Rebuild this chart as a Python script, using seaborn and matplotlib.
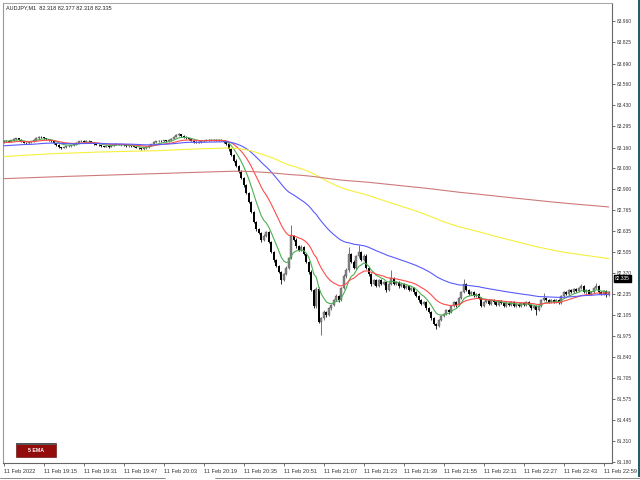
import matplotlib
matplotlib.use("Agg")
import matplotlib.pyplot as plt
from matplotlib.patches import Rectangle
from matplotlib.lines import Line2D
import numpy as np
import pandas as pd
import seaborn as sns

# AUDJPY M1 closes, 18:59 .. 23:01 (one per minute)
closes = [
    83.200, 83.205, 83.198, 83.208, 83.215, 83.220, 83.212, 83.200, 83.192, 83.188,
    83.195, 83.200, 83.210, 83.222, 83.230, 83.226, 83.220, 83.214, 83.208, 83.200,
    83.190, 83.178, 83.165, 83.160, 83.163, 83.170, 83.172, 83.176, 83.182, 83.192,
    83.200, 83.204, 83.198, 83.205, 83.200, 83.194, 83.186, 83.180, 83.176, 83.170,
    83.168, 83.172, 83.166, 83.174, 83.180, 83.184, 83.178, 83.182, 83.176, 83.172,
    83.175, 83.170, 83.166, 83.160, 83.156, 83.152, 83.158, 83.166, 83.174, 83.184,
    83.196, 83.200, 83.206, 83.200, 83.208, 83.202, 83.210, 83.218, 83.230, 83.240,
    83.246, 83.236, 83.228, 83.222, 83.216, 83.206, 83.198, 83.192, 83.196, 83.200,
    83.206, 83.210, 83.208, 83.212, 83.210, 83.206, 83.210, 83.204, 83.196, 83.185,
    83.150, 83.115, 83.080, 83.045, 83.010, 82.970, 82.926, 82.875, 82.818, 82.755,
    82.692, 82.648, 82.623, 82.579, 82.604, 82.629, 82.566, 82.503, 82.452, 82.415,
    82.377, 82.326, 82.364, 82.402, 82.465, 82.604, 82.579, 82.541, 82.516, 82.535,
    82.490, 82.440, 82.377, 82.263, 82.160, 82.270, 82.061, 82.086, 82.124, 82.105,
    82.149, 82.168, 82.200, 82.225, 82.200, 82.276, 82.351, 82.389, 82.490, 82.440,
    82.402, 82.478, 82.503, 82.452, 82.478, 82.402, 82.364, 82.301, 82.326, 82.288,
    82.326, 82.301, 82.314, 82.263, 82.301, 82.339, 82.301, 82.314, 82.288, 82.301,
    82.276, 82.288, 82.263, 82.276, 82.250, 82.225, 82.200, 82.175, 82.187, 82.149,
    82.124, 82.086, 82.049, 82.036, 82.074, 82.099, 82.112, 82.137, 82.124, 82.162,
    82.187, 82.168, 82.212, 82.250, 82.301, 82.263, 82.238, 82.250, 82.225, 82.238,
    82.212, 82.162, 82.187, 82.200, 82.175, 82.200, 82.187, 82.168, 82.194, 82.181,
    82.162, 82.181, 82.168, 82.187, 82.162, 82.175, 82.162, 82.181, 82.168, 82.187,
    82.168, 82.149, 82.162, 82.137, 82.162, 82.200, 82.212, 82.200, 82.187, 82.200,
    82.187, 82.200, 82.181, 82.225, 82.250, 82.238, 82.263, 82.250, 82.269, 82.257,
    82.276, 82.288, 82.250, 82.263, 82.238, 82.250, 82.276, 82.288, 82.250, 82.238,
    82.257, 82.231, 82.250,
]
first_open = 83.196

# wicks in points (0.001)
upper_wick = [
    4, 3, 5, 4, 6, 3, 4, 2, 5, 3, 4, 5, 3, 6, 5, 4, 3, 4, 2, 3,
    4, 3, 5, 3, 4, 2, 5, 4, 3, 4, 5, 3, 4, 6, 3, 4, 2, 3, 5, 3,
    4, 3, 5, 2, 4, 6, 3, 4, 3, 2, 4, 3, 2, 5, 3, 4, 3, 5, 4, 3,
    5, 4, 3, 6, 4, 3, 5, 4, 6, 5, 7, 4, 3, 5, 2, 4, 3, 5, 4, 3,
    4, 5, 3, 4, 3, 5, 4, 3, 4, 5, 6, 8, 5, 7, 6, 9, 5, 8, 6, 7,
    8, 6, 9, 5, 10, 7, 6, 8, 5, 9, 6, 8, 7, 10, 9, 69, 8, 12, 6, 10,
    7, 9, 6, 10, 8, 12, 9, 10, 11, 8, 7, 9, 6, 10, 8, 9, 11, 12, 44, 8,
    10, 9, 44, 7, 11, 10, 8, 6, 9, 7, 8, 6, 9, 7, 10, 50, 7, 6, 8, 5,
    7, 6, 8, 5, 7, 9, 6, 8, 5, 7, 6, 8, 7, 9, 5, 7, 6, 8, 7, 9,
    6, 8, 7, 10, 32, 9, 6, 8, 5, 7, 6, 8, 5, 7, 6, 5, 7, 6, 4, 6,
    5, 7, 4, 6, 5, 7, 4, 6, 5, 4, 6, 5, 7, 4, 6, 9, 32, 6, 5, 7,
    5, 6, 4, 9, 7, 6, 8, 5, 7, 6, 8, 13, 6, 7, 5, 6, 9, 19, 6, 5,
    7, 6, 5,
]
lower_wick = [
    3, 5, 4, 3, 5, 4, 3, 5, 4, 6, 3, 4, 5, 3, 4, 5, 3, 4, 6, 4,
    5, 4, 3, 6, 4, 5, 3, 4, 5, 3, 4, 5, 3, 4, 5, 3, 6, 4, 3, 5,
    3, 4, 6, 3, 5, 4, 3, 5, 4, 6, 4, 5, 3, 4, 6, 7, 4, 3, 5, 4,
    3, 5, 4, 3, 5, 4, 3, 4, 5, 3, 4, 5, 3, 4, 6, 4, 5, 3, 4, 5,
    3, 4, 5, 3, 4, 6, 3, 4, 5, 6, 7, 6, 8, 5, 9, 6, 10, 7, 8, 9,
    7, 10, 8, 12, 6, 9, 8, 7, 10, 8, 9, 25, 7, 8, 6, 9, 7, 10, 8, 6,
    9, 8, 10, 7, 12, 9, 8, 82, 10, 9, 8, 10, 7, 9, 11, 8, 7, 9, 10, 8,
    9, 7, 10, 8, 6, 9, 10, 12, 8, 9, 7, 9, 8, 11, 7, 8, 9, 7, 10, 8,
    7, 9, 8, 6, 9, 7, 10, 8, 9, 11, 8, 10, 9, 19, 8, 7, 9, 6, 10, 8,
    7, 9, 6, 8, 7, 9, 8, 6, 9, 7, 8, 7, 9, 6, 8, 7, 9, 8, 6, 7,
    9, 6, 8, 7, 9, 6, 8, 7, 6, 8, 7, 9, 8, 32, 7, 6, 9, 7, 8, 6,
    8, 7, 9, 6, 8, 7, 6, 8, 7, 9, 6, 8, 7, 9, 6, 8, 7, 6, 9, 8,
    7, 9, 6,
]

# moving averages: period, value just before the first visible bar, colour
ema_periods = [8, 21, 60, 200, 800]
ema_seeds = [83.205, 83.192, 83.172, 83.104, 82.965]
ema_colors = ["#4caf50", "#ff4c4c", "#5a5aff", "#f5f03c", "#cd7a7a"]

price_ticks = [83.960, 83.825, 83.690, 83.560, 83.430, 83.295, 83.160, 83.030, 82.900,
               82.765, 82.635, 82.505, 82.370, 82.235, 82.105, 81.975, 81.840, 81.705,
               81.575, 81.445, 81.310, 81.180]
time_labels = ["11 Feb 2022", "11 Feb 19:15", "11 Feb 19:31", "11 Feb 19:47", "11 Feb 20:03",
               "11 Feb 20:19", "11 Feb 20:35", "11 Feb 20:51", "11 Feb 21:07", "11 Feb 21:23",
               "11 Feb 21:39", "11 Feb 21:55", "11 Feb 22:11", "11 Feb 22:27", "11 Feb 22:43",
               "11 Feb 22:59"]
title_text = "AUDJPY,M1  82.318 82.377 82.318 82.335"
last_price = 82.335

sns.set_style("white")
plt.rcParams['font.family'] = ['Liberation Sans', 'DejaVu Sans']

closes = np.array(closes)
opens = np.concatenate([[first_open], closes[:-1]])
highs = np.maximum(opens, closes) + np.array(upper_wick) / 1000
lows = np.minimum(opens, closes) - np.array(lower_wick) / 1000
bars = np.arange(len(closes))
df = pd.DataFrame({"bar": bars, "open": opens, "high": highs, "low": lows, "close": closes})

fig = plt.figure(figsize=(6.4, 4.8), dpi=100)
fig.patch.set_facecolor("white")
ax = fig.add_axes([3 / 640, 1 - 463 / 480, 609 / 640, 460 / 480])

up = df[df.close >= df.open]
dn = df[df.close < df.open]
ax.vlines(up.bar, up.low, up.high, color="#5e5e5e", lw=0.6, zorder=2)
ax.vlines(dn.bar, dn.low, dn.high, color="black", lw=0.6, zorder=2)
ax.bar(up.bar, (up.close - up.open).clip(lower=0.002), bottom=up.open, width=0.8,
       color="#8a8a8a", edgecolor="#444444", lw=0.25, zorder=3)
ax.bar(dn.bar, (dn.open - dn.close).clip(lower=0.002), bottom=dn.close, width=0.8,
       color="black", lw=0, zorder=3)

for n, seed, col in zip(ema_periods, ema_seeds, ema_colors):
    s = pd.Series([seed] + list(closes)).ewm(span=n, adjust=False).mean().values[1:]
    sns.lineplot(x=bars, y=s, color=col, lw=0.8, ax=ax, zorder=4)

ax.set_xlim(-0.32, 243.28)
ax.set_ylim(81.172, 84.0735)
ax.set_xlabel("")
ax.set_ylabel("")

ax.yaxis.tick_right()
ax.set_yticks(price_ticks)
ax.set_yticklabels([f"{v:.3f}" for v in price_ticks])
ax.tick_params(axis="y", direction="out", length=2, width=0.5, pad=1.5,
               labelsize=3.5, colors="#333333", right=True, left=False)
ax.set_xticks(np.arange(0, 241, 16))
ax.set_xticklabels(time_labels, ha="left")
ax.tick_params(axis="x", direction="out", length=2.5, width=0.5, pad=1.5,
               labelsize=4.1, colors="#333333", bottom=True)
for sp in ax.spines.values():
    sp.set_color("#666666")
    sp.set_linewidth(0.8)
ax.spines["top"].set_color("#aaaaaa")
ax.spines["left"].set_color("#999999")

fig.text(6 / 640, 1 - 8 / 480, title_text, fontsize=4.0, color="#222222", va="center", ha="left")

# current price tag
ax.annotate(f"{last_price:.3f}", xy=(1.0, last_price), xycoords=("axes fraction", "data"),
            xytext=(2, 0), textcoords="offset points", fontsize=3.5, color="white",
            va="center", ha="left",
            bbox=dict(boxstyle="square,pad=0.25", fc="black", ec="black"), annotation_clip=False)

# "5 EMA" button
fig.add_artist(Rectangle((16 / 640, 1 - 457 / 480), 40 / 640, 14 / 480,
                         fc="#930c0c", ec="#5a0000", lw=0.4))
fig.add_artist(Rectangle((16 / 640, 1 - 445 / 480), 40 / 640, 2 / 480,
                         fc="#555555", ec="none"))
fig.text(36 / 640, 1 - 450.5 / 480, "5 EMA", fontsize=3.8, color="white", weight="bold",
         ha="center", va="center")

# window edges
fig.add_artist(Line2D([0, 165 / 640], [1 - 477.5 / 480] * 2, color="#777777", lw=0.6))
fig.add_artist(Line2D([215 / 640, 1], [1 - 477.5 / 480] * 2, color="#777777", lw=0.6))
fig.add_artist(Rectangle((638 / 640, 3 / 480), 2 / 640, 477 / 480, fc="#1f5f6a", ec="none"))

fig.savefig("out.png", dpi=100, facecolor="white")
